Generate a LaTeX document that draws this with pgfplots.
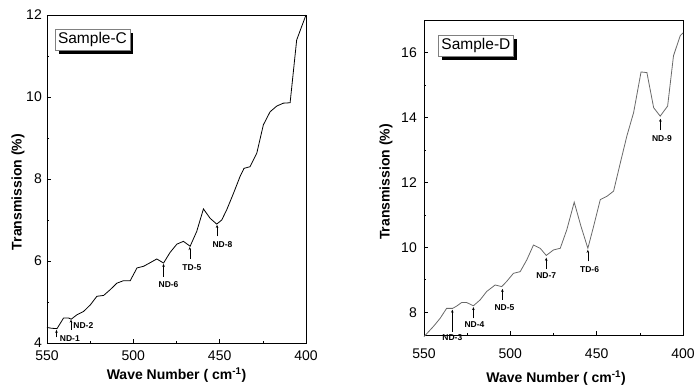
\documentclass[border=0pt]{standalone}
\usepackage{pgfplots}
\pgfplotsset{compat=1.18}
\usepackage{fontspec}
\setmainfont{Liberation Sans}
\usetikzlibrary{arrows.meta,shadows}
\pgfplotsset{
  mystyle/.style={
    scale only axis,
    clip=false,
    x dir=reverse,
    xmin=400, xmax=550,
    xtick={400,450,500,550},
    minor x tick num=1,
    minor y tick num=1,
    tick pos=left,
    tick align=inside,
    major tick length=4pt,
    minor tick length=2.5pt,
    /pgf/number format/assume math mode=true,
    ticklabel style={font=\fontsize{14}{15}\selectfont, inner sep=1pt},
    label style={font=\bfseries\fontsize{14}{15}\selectfont},
    xlabel={Wave Number ( cm\textsuperscript{-1})},
    ylabel={Transmission (\%)},
    axis line style={line width=0.8pt},
    every tick/.style={black, line width=0.6pt},
  },
}
\tikzset{
  ann/.style={font=\bfseries\fontsize{8.5}{9}\selectfont, inner sep=0pt},
  arr/.style={-{Stealth[length=3pt,width=2.6pt]}, line width=0.5pt},
  sbox/.style={draw=gray, fill=white, line width=0.5pt, font=\fontsize{15.5}{17}\selectfont, inner xsep=3pt, minimum height=18pt, anchor=north west,
    drop shadow={shadow xshift=3.5pt, shadow yshift=-3.5pt, fill=black, opacity=1}},
}
\begin{document}
\begin{tikzpicture}
\path[use as bounding box] (0,0) rectangle (694pt,389pt);
\begin{axis}[mystyle,
  at={(47pt,46pt)}, anchor=south west,
  width=259pt, height=328pt,
  ymin=4, ymax=12, ytick={4,6,8,10,12},
  xticklabel shift=6.5pt,
  yticklabel shift=4pt,
  xlabel style={at={(axis description cs:0.5,-0.098)}, anchor=center},
  ylabel style={at={(axis description cs:-0.112,0.46)}, anchor=center},
]
\addplot[black, line width=0.8pt] coordinates {
(550,4.38) (547.5,4.36) (544.2,4.35) (540.4,4.61) (537.5,4.61) (536,4.58)
(532.6,4.69) (528.8,4.77) (524.9,4.93) (521.1,5.14) (517.2,5.16) (513.4,5.30)
(509.5,5.46) (505.7,5.52) (501.8,5.52) (497.9,5.83) (494.1,5.87) (490.2,5.96)
(486.4,6.05) (482.5,5.95) (478.7,6.21) (474.8,6.41) (471.0,6.48) (467.1,6.36)
(463.3,6.72) (459.4,7.27) (455.5,7.04) (451.7,6.90) (448.8,7.00) (445.9,7.25)
(442.0,7.65) (438.2,8.06) (435.9,8.26) (432.4,8.30) (428.5,8.63) (424.7,9.32)
(420.8,9.64) (416.9,9.78) (413.1,9.85) (409.2,9.86) (405.4,11.39) (402.5,11.72)
(400,12.0)
};
\node[sbox] at (rel axis cs:0.03,0.958) {Sample-C};
\draw[arr] (axis cs:544.5,4.14) -- (axis cs:544.5,4.32);
\node[ann, anchor=west] at (axis cs:542.6,4.10) {ND-1};
\draw[arr] (axis cs:536.1,4.32) -- (axis cs:536.1,4.57);
\node[ann, anchor=west] at (axis cs:534.8,4.42) {ND-2};
\draw[arr] (axis cs:482.5,5.62) -- (axis cs:482.5,5.93);
\node[ann] at (axis cs:479.6,5.42) {ND-6};
\draw[arr] (axis cs:467.3,6.05) -- (axis cs:467.3,6.34);
\node[ann] at (axis cs:466.1,5.83) {TD-5};
\draw[arr] (axis cs:451.5,6.60) -- (axis cs:451.5,6.88);
\node[ann] at (axis cs:448.4,6.41) {ND-8};
\end{axis}

\begin{axis}[mystyle,
  at={(424pt,54pt)}, anchor=south west,
  width=259pt, height=315pt,
  ymin=7.3, ymax=17, ytick={8,10,12,14,16},
  xticklabel shift=13pt,
  yticklabel shift=6pt,
  xlabel style={at={(axis description cs:0.51,-0.137)}, anchor=center},
  ylabel style={at={(axis description cs:-0.147,0.486)}, anchor=center},
]
\addplot[color={rgb,255:red,105;green,105;blue,105}, line width=0.8pt] coordinates {
(550,7.25) (544.6,7.56) (540.7,7.81) (536.9,8.12) (533.4,8.12) (531.1,8.19)
(528.2,8.30) (525.3,8.30) (521.4,8.20) (517.5,8.38) (513.7,8.64) (508.8,8.84)
(505.0,8.79) (502.1,8.95) (498.2,9.20) (494.3,9.25) (490.5,9.61) (486.6,10.07)
(482.7,9.97) (479.2,9.75) (475.0,9.92) (471.1,9.97) (467.3,10.54) (463.0,11.39)
(459.1,10.65) (455.1,9.97) (451.8,10.64) (447.9,11.47) (444.1,11.57) (440.2,11.73)
(436.3,12.60) (432.5,13.43) (428.6,14.15) (424.3,15.40) (420.9,15.38) (417.0,14.30)
(413.2,14.04) (408.9,14.35) (405.5,15.90) (401.6,16.52) (400,16.6)
};
\node[sbox] at (rel axis cs:0.055,0.952) {Sample-D};
\draw[arr] (axis cs:533.6,7.40) -- (axis cs:533.6,8.08);
\node[ann] at (axis cs:533.6,7.23) {ND-3};
\draw[arr] (axis cs:521.4,7.81) -- (axis cs:521.4,8.16);
\node[ann] at (axis cs:520.8,7.61) {ND-4};
\draw[arr] (axis cs:504.6,8.38) -- (axis cs:504.6,8.72);
\node[ann] at (axis cs:503.4,8.15) {ND-5};
\draw[arr] (axis cs:479.2,9.33) -- (axis cs:479.2,9.68);
\node[ann] at (axis cs:479.2,9.12) {ND-7};
\draw[arr] (axis cs:455.1,9.57) -- (axis cs:455.1,9.92);
\node[ann] at (axis cs:454.1,9.33) {TD-6};
\draw[arr] (axis cs:413.1,13.60) -- (axis cs:413.1,13.96);
\node[ann] at (axis cs:412.2,13.35) {ND-9};
\end{axis}
\end{tikzpicture}
\end{document}
